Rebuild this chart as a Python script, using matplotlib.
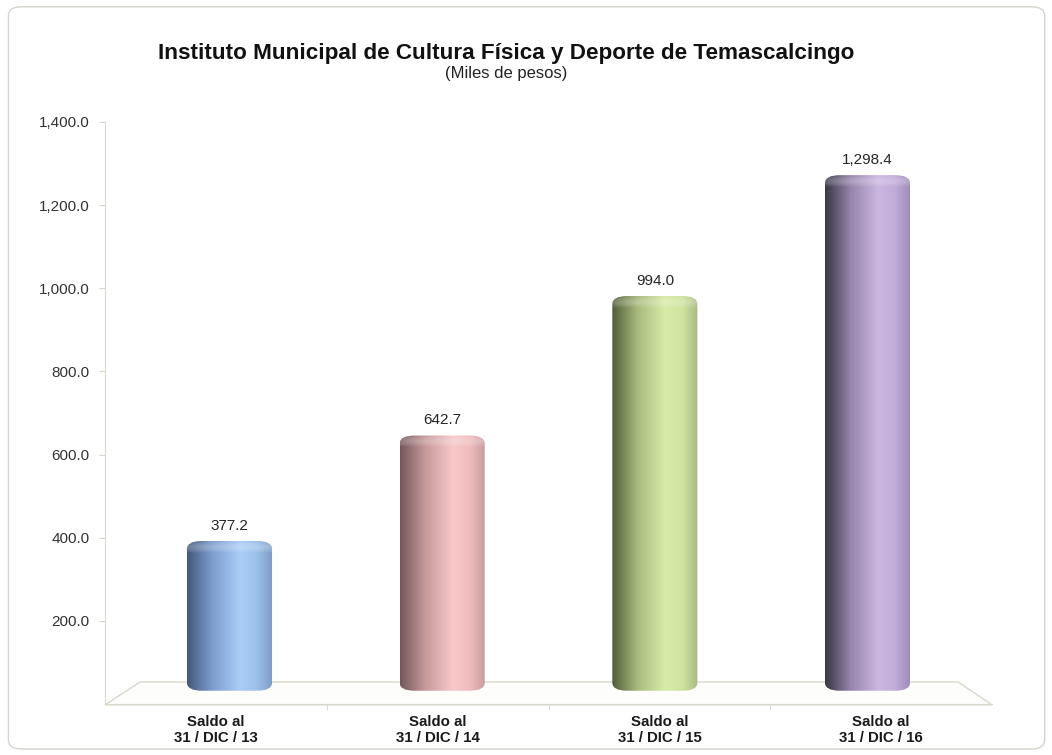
import numpy as np
import matplotlib
matplotlib.use("Agg")
import matplotlib.pyplot as plt
from matplotlib.colors import LinearSegmentedColormap
from matplotlib.patches import FancyBboxPatch, Polygon
from matplotlib.transforms import Affine2D

plt.rcParams['font.family'] = ['Liberation Sans', 'DejaVu Sans']

# data
categories = ["Saldo al\n31 / DIC / 13", "Saldo al\n31 / DIC / 14",
              "Saldo al\n31 / DIC / 15", "Saldo al\n31 / DIC / 16"]
values = [377.2, 642.7, 994.0, 1298.4]
yticks = [200, 400, 600, 800, 1000, 1200, 1400]
# dark edge, light middle, right edge for each cylinder
bar_shades = [
    ["#44587a", "#7e9ed0", "#a9cdf7", "#9cc0ea", "#7c9bc4"],
    ["#73575a", "#c89a9c", "#f8c9c9", "#efbcbc", "#c49b9e"],
    ["#525c3a", "#a8bb7e", "#d8eca8", "#cfe49e", "#a9bb83"],
    ["#393645", "#9685ac", "#cbb7e1", "#c1abd9", "#9c8bb5"],
]

fig = plt.figure(figsize=(10.52, 7.55), dpi=100)
ax = fig.add_axes([0.0998, 0.0675, 0.8432, 0.771])

# rounded outer frame
frame = FancyBboxPatch((0.008, 0.008), 0.985, 0.983, boxstyle="round,pad=0,rounding_size=0.012",
                       transform=fig.transFigure, fc="white", ec="#d4d4cc", lw=1.0, zorder=-10)
fig.patches.append(frame)

ax.set_xlim(-0.5, 3.5)
ax.set_ylim(0, 1400)
x = np.arange(len(categories))

# 3d floor
floor = Polygon([(-0.5, -2), (-0.342, 53), (3.347, 53), (3.5, -2)], closed=True,
                fc="#fdfdfb", ec="#d8d8cc", lw=1.0, zorder=1, clip_on=False)
ax.add_patch(floor)

# bars sit a bit back in depth: shrink around the middle and lift onto the floor
back = Affine2D().translate(-1.5, 0).scale(0.959, 0.955).translate(1.5, 32) + ax.transData

bw = 0.40
bars = ax.bar(x, values, width=bw, transform=back, color="none", zorder=2)
grad = np.linspace(0, 1, 256).reshape(1, -1)
for rect, shades, v in zip(bars, bar_shades, values):
    x0, y0 = rect.get_x(), rect.get_y()
    w, h = rect.get_width(), rect.get_height()
    cmap = LinearSegmentedColormap.from_list("c", list(zip([0, 0.3, 0.62, 0.82, 1.0], shades)))
    clip = FancyBboxPatch((x0, y0), w, h, boxstyle="round,pad=0,rounding_size=0.07",
                          mutation_aspect=290, transform=back, fc="none", ec="none")
    ax.add_patch(clip)
    im = ax.imshow(grad, cmap=cmap, aspect="auto", extent=(x0, x0 + w, y0, y0 + h),
                   transform=back, zorder=3, interpolation="bilinear")
    im.set_clip_path(clip)
    # soft highlight at the top rim
    topgrad = np.linspace(0, 1, 64).reshape(-1, 1)
    hl = ax.imshow(np.dstack([np.ones((64, 1))] * 3 + [0.22 * np.sin(np.pi * topgrad)]),
                   aspect="auto", extent=(x0, x0 + w, y0 + h - 30, y0 + h - 2),
                   transform=back, zorder=4, interpolation="bilinear")
    hl.set_clip_path(clip)
    ax.annotate(f"{v:,.1f}", xy=(x0 + w / 2, y0 + h), xycoords=back,
                xytext=(0, 6), textcoords="offset points", ha="center", va="bottom",
                fontsize=11, color="#262626")

ax.set_xticks(x)
ax.set_xticklabels(categories, fontsize=10.8, fontweight="bold", color="#1a1a1a")
ax.set_xticks([0.5, 1.5, 2.5], minor=True)
ax.tick_params(axis="x", which="major", length=0, pad=8)
ax.tick_params(axis="x", which="minor", length=4, color="#d8d8cc")
ax.set_yticks(yticks)
ax.set_yticklabels([f"{t:,.1f}" for t in yticks])
ax.tick_params(axis="y", length=4, color="#d8d8cc", labelsize=11, labelcolor="#333333", pad=7)

for s in ["top", "right"]:
    ax.spines[s].set_visible(False)
for s in ["left", "bottom"]:
    ax.spines[s].set_color("#d8d8cc")
ax.set_facecolor("none")

fig.text(0.481, 0.929, "Instituto Municipal de Cultura Física y Deporte de Temascalcingo",
         ha="center", va="center", fontsize=16.2, fontweight="bold", color="#111111")
fig.text(0.481, 0.902, "(Miles de pesos)", ha="center", va="center", fontsize=12, color="#222222")

fig.savefig("out.png", dpi=100)
